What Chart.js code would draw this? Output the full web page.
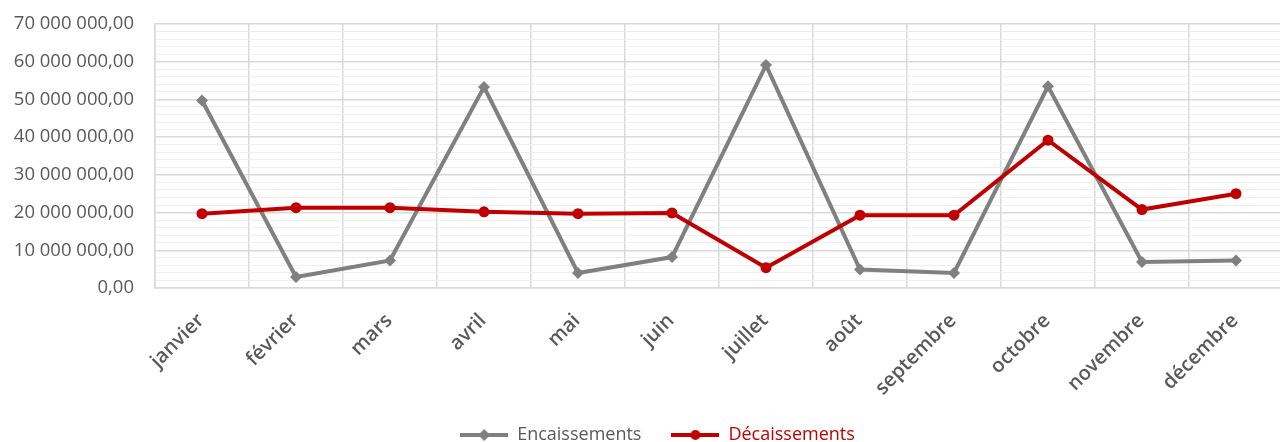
<!DOCTYPE html>
<html lang="fr">
<head>
<meta charset="utf-8">
<title>Encaissements / Décaissements</title>
<script src="https://cdn.jsdelivr.net/npm/chart.js@4.4.1/dist/chart.umd.min.js"></script>
<style>
    html, body { margin: 0; padding: 0; background: #ffffff; overflow: hidden; }
    #wrap { position: relative; width: 1289px; height: 442px; }
</style>
</head>
<body>
<div id="wrap"><canvas id="tresorerieChart"></canvas></div>
<script>
// Données (en euros)
const mois = ['janvier', 'février', 'mars', 'avril', 'mai', 'juin', 'juillet', 'août', 'septembre', 'octobre', 'novembre', 'décembre'];
const encaissements = [49700000, 2900000, 7300000, 53300000, 4000000, 8200000, 59100000, 4900000, 4000000, 53500000, 6900000, 7300000];
const decaissements = [19700000, 21300000, 21300000, 20200000, 19700000, 19900000, 5400000, 19300000, 19300000, 39200000, 20800000, 25000000];
const axeMin = 0;
const axeMax = 70000000;
const pasMajeur = 10000000;
const pasMineur = 2000000;

const GRIS = '#808080';
const ROUGE = '#c00000';
const TEXTE = '#595959';

function formatMontant(valeur) {
    const entier = Math.round(valeur).toString().replace(/\B(?=(\d{3})+(?!\d))/g, ' ');
    return entier + ',00';
}

// Petite icône de légende : trait + marqueur
function iconeLegende(couleur, forme) {
    const c = document.createElement('canvas');
    c.width = 48;
    c.height = 14;
    const ctx = c.getContext('2d');
    ctx.strokeStyle = couleur;
    ctx.fillStyle = couleur;
    ctx.lineWidth = 4;
    ctx.beginPath();
    ctx.moveTo(0, 7);
    ctx.lineTo(48, 7);
    ctx.stroke();
    ctx.beginPath();
    if (forme === 'losange') {
        ctx.moveTo(24, 1);
        ctx.lineTo(30, 7);
        ctx.lineTo(24, 13);
        ctx.lineTo(18, 7);
        ctx.closePath();
    } else {
        ctx.arc(24, 7, 5, 0, Math.PI * 2);
    }
    ctx.fill();
    return c;
}

const iconeEnc = iconeLegende(GRIS, 'losange');
const iconeDec = iconeLegende(ROUGE, 'rond');

// Décale la légende pour la placer comme dans l'original
const decalageLegende = {
    id: 'decalageLegende',
    afterLayout(chart) {
        const leg = chart.legend;
        if (!leg) return;
        leg.left += 13;
        leg.right += 13;
        leg.top -= 2;
        leg.bottom -= 2;
    }
};

const ctx = document.getElementById('tresorerieChart').getContext('2d');
const chart = new Chart(ctx, {
    type: 'line',
    data: {
        labels: mois,
        datasets: [{
            label: 'Encaissements',
            data: encaissements,
            borderColor: GRIS,
            backgroundColor: GRIS,
            borderWidth: 4,
            tension: 0,
            pointStyle: 'rectRot',
            pointRadius: 6,
            pointBorderWidth: 0,
            pointBackgroundColor: GRIS,
            order: 2
        }, {
            label: 'Décaissements',
            data: decaissements,
            borderColor: ROUGE,
            backgroundColor: ROUGE,
            borderWidth: 4,
            tension: 0,
            pointStyle: 'circle',
            pointRadius: 5.5,
            pointBorderWidth: 0,
            pointBackgroundColor: ROUGE,
            order: 1
        }]
    },
    options: {
        responsive: true,
        maintainAspectRatio: false,
        animation: false,
        layout: { padding: { top: 24, left: 0, right: 0, bottom: -14 } },
        scales: {
            x: {
                offset: true,
                grid: { offset: true, color: '#d9d9d9', lineWidth: 1.5, drawTicks: false },
                border: { color: '#d9d9d9', width: 1.5 },
                ticks: {
                    color: TEXTE,
                    font: { family: 'Open Sans', size: 20, weight: '600' },
                    minRotation: 45,
                    maxRotation: 45,
                    autoSkip: false,
                    padding: 21,
                    labelOffset: -1
                },
                afterFit: (scale) => {
                    scale.height = 110;
                    scale.paddingLeft = 0;
                    scale.paddingRight = 0;
                }
            },
            y: {
                min: axeMin,
                max: axeMax,
                grid: {
                    drawTicks: false,
                    color: (c) => (c.tick && c.tick.value % pasMajeur === 0) ? '#d9d9d9' : '#eeeeee',
                    lineWidth: (c) => (c.tick && c.tick.value % pasMajeur === 0) ? 1.5 : 1
                },
                border: { color: '#d9d9d9', width: 1.5 },
                ticks: {
                    stepSize: pasMineur,
                    autoSkip: false,
                    color: TEXTE,
                    font: { family: 'Open Sans', size: 18.5 },
                    padding: 21,
                    callback: (v) => (v % pasMajeur === 0) ? formatMontant(v) : ''
                },
                afterFit: (scale) => {
                    scale.width = 155;
                    scale.paddingTop = 0;
                    scale.paddingBottom = 0;
                }
            }
        },
        plugins: {
            tooltip: { enabled: false },
            legend: {
                display: true,
                position: 'bottom',
                labels: {
                    usePointStyle: true,
                    pointStyleWidth: 48,
                    padding: 30,
                    font: { family: 'Open Sans', size: 18 },
                    generateLabels: () => [
                        { text: 'Encaissements', pointStyle: iconeEnc, fontColor: TEXTE, strokeStyle: GRIS, fillStyle: GRIS, lineWidth: 0, datasetIndex: 0 },
                        { text: 'Décaissements', pointStyle: iconeDec, fontColor: ROUGE, strokeStyle: ROUGE, fillStyle: ROUGE, lineWidth: 0, datasetIndex: 1 }
                    ]
                }
            }
        }
    },
    plugins: [decalageLegende]
});
</script>
</body>
</html>
